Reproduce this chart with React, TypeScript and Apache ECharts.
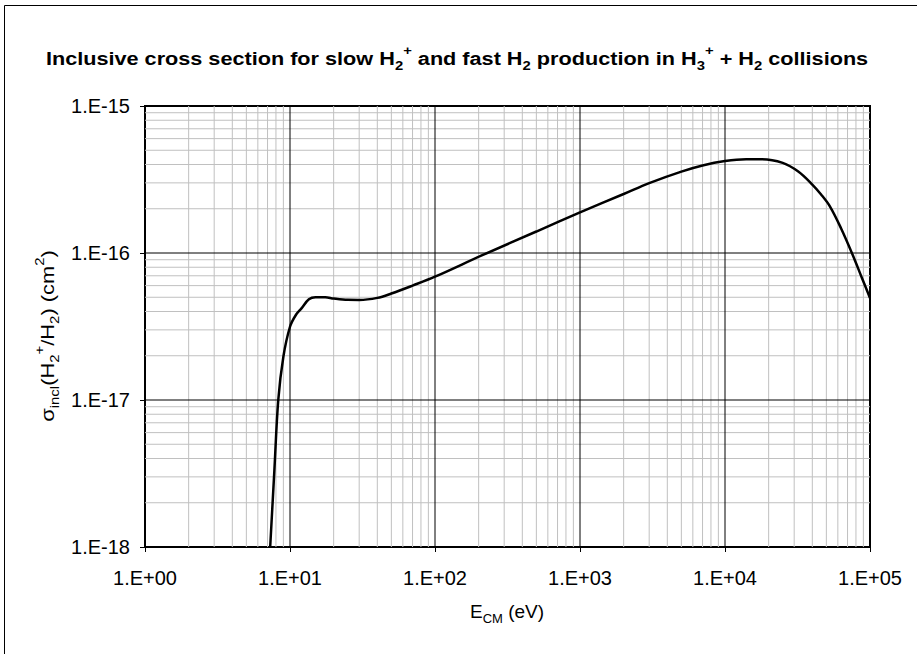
import React, { useEffect, useRef } from "react";
import * as echarts from "echarts";

// Center-of-mass energy (eV) and inclusive cross section (cm^2)
const energy = [
  7.3, 7.8, 8.3, 9, 10, 11, 12, 13.5, 15, 17.5, 20, 25, 30, 40, 50, 70, 100, 214, 500, 1000,
  2000, 3000, 5000, 7000, 10000, 14000, 18000, 25000, 32000, 40000, 46000, 53000, 63000, 76000,
  88000, 100000,
];
const sigma = [
  1.0e-18, 3.3e-18, 1.0e-17, 1.97e-17, 3.15e-17, 3.8e-17, 4.2e-17, 4.84e-17, 5.0e-17, 5.0e-17,
  4.9e-17, 4.8e-17, 4.79e-17, 4.95e-17, 5.3e-17, 6.0e-17, 6.9e-17, 9.7e-17, 1.4e-16, 1.89e-16,
  2.52e-16, 2.99e-16, 3.58e-16, 3.94e-16, 4.22e-16, 4.34e-16, 4.34e-16, 4.1e-16, 3.58e-16,
  2.92e-16, 2.5e-16, 2.07e-16, 1.48e-16, 9.7e-17, 6.76e-17, 4.94e-17,
];

// Axis range, decades and gridline definitions
const xMin = 1;
const xMax = 1e5;
const yMin = 1e-18;
const yMax = 1e-15;
const mantissas = [2, 3, 4, 5, 6, 7, 8, 9];
const xDecades = [1, 10, 100, 1000, 10000];
const yDecades = [1e-18, 1e-17, 1e-16];
const xMajorInner = [10, 100, 1000, 10000];
const yMajorInner = [1e-17, 1e-16];

const titleText =
  "Inclusive cross section for slow H{sub|2}{sup|+} and fast H{sub|2} production in H{sub|3}{sup|+} + H{sub|2} collisions";
const yName = "σ{sub|incl}(H{sub|2}{sup|+}/H{sub|2}) (cm{sup|2})";
const xName = "E{sub|CM} (eV)";

const FONT = "'Liberation Sans', Arial, Helvetica, sans-serif";

function expLabel(v: number): string {
  const e = Math.round(Math.log10(v));
  const s = String(Math.abs(e)).padStart(2, "0");
  return "1.E" + (e < 0 ? "-" : "+") + s;
}

export default function App() {
  const ref = useRef<HTMLDivElement>(null);

  useEffect(() => {
    document.body.style.margin = "0";
    if (!ref.current) return;
    const chart = echarts.init(ref.current, undefined, { renderer: "svg" });

    const xMinor: number[] = [];
    xDecades.forEach((d) => mantissas.forEach((m) => xMinor.push(m * d)));
    const yMinor: number[] = [];
    yDecades.forEach((d) => mantissas.forEach((m) => yMinor.push(m * d)));

    const data = energy.map((e, i) => [e, sigma[i]]);

    const gridSeries = (vals: number[], vertical: boolean, color: string, z: number) =>
      vals.map((v) => ({
        type: "line",
        data: vertical ? [[v, yMin], [v, yMax]] : [[xMin, v], [xMax, v]],
        symbol: "none",
        silent: true,
        z,
        lineStyle: { color, width: 1 },
        emphasis: { disabled: true },
      }));

    const subT = { fontSize: 13, fontWeight: "bold", fontFamily: FONT, color: "#000", lineHeight: 12, verticalAlign: "bottom" };
    const supT = { fontSize: 13, fontWeight: "bold", fontFamily: FONT, color: "#000", lineHeight: 12, verticalAlign: "top" };
    const subN = { fontSize: 13, fontFamily: FONT, color: "#000", lineHeight: 13, verticalAlign: "bottom" };
    const supN = { fontSize: 13, fontFamily: FONT, color: "#000", lineHeight: 13, verticalAlign: "top" };

    chart.setOption({
      animation: false,
      backgroundColor: "#fff",
      grid: {
        left: 145,
        right: 47,
        top: 106,
        bottom: 107,
        show: true,
        backgroundColor: "#fff",
        borderColor: "#000",
        borderWidth: 2,
      },
      xAxis: {
        type: "log",
        logBase: 10,
        min: xMin,
        max: xMax,
        splitNumber: 5,
        axisLine: { show: true, lineStyle: { color: "#000", width: 2 } },
        axisTick: { show: true, length: 5, lineStyle: { color: "#000", width: 1 } },
        axisLabel: { formatter: expLabel, fontFamily: FONT, fontSize: 20, color: "#000", margin: 21 },
        splitLine: { show: false },
      },
      yAxis: {
        type: "log",
        logBase: 10,
        min: yMin,
        max: yMax,
        splitNumber: 3,
        axisLine: { show: true, lineStyle: { color: "#000", width: 2 } },
        axisTick: { show: true, length: 5, lineStyle: { color: "#000", width: 1 } },
        axisLabel: { formatter: expLabel, fontFamily: FONT, fontSize: 20, color: "#000", margin: 15 },
        splitLine: { show: false },
      },
      graphic: [
        {
          type: "rect",
          shape: { x: 4.5, y: 5.5, width: 1200, height: 1200 },
          style: { fill: "none", stroke: "#000", lineWidth: 1 },
          silent: true,
          z: 100,
        },
        {
          type: "text",
          x: 457,
          y: 58,
          scaleX: 1.14,
          style: {
            text: titleText,
            fontFamily: FONT,
            fontSize: 19,
            fontWeight: "bold",
            lineHeight: 28,
            fill: "#000",
            align: "center",
            verticalAlign: "middle",
            rich: { sub: subT, sup: supT },
          },
          silent: true,
        },
        {
          type: "text",
          x: 47,
          y: 336,
          rotation: Math.PI / 2,
          scaleX: 1.15,
          style: {
            text: yName,
            fontFamily: FONT,
            fontSize: 19,
            lineHeight: 28,
            fill: "#000",
            align: "center",
            verticalAlign: "middle",
            rich: { sub: subN, sup: supN },
          },
          silent: true,
        },
        {
          type: "text",
          x: 507,
          y: 611,
          style: {
            text: xName,
            fontFamily: FONT,
            fontSize: 19,
            lineHeight: 28,
            fill: "#000",
            align: "center",
            verticalAlign: "middle",
            rich: { sub: subN },
          },
          silent: true,
        },
      ],
      series: [
        ...gridSeries(xMinor, true, "#c0c0c0", 1),
        ...gridSeries(yMinor, false, "#c0c0c0", 1),
        ...gridSeries(xMajorInner, true, "#000", 2),
        ...gridSeries(yMajorInner, false, "#000", 2),
        {
          type: "line",
          data,
          symbol: "none",
          smooth: 0.35,
          clip: true,
          silent: true,
          z: 3,
          lineStyle: { color: "#000", width: 2.5 },
        },
      ],
    });

    return () => chart.dispose();
  }, []);

  return <div ref={ref} style={{ width: 917, height: 654 }} />;
}
